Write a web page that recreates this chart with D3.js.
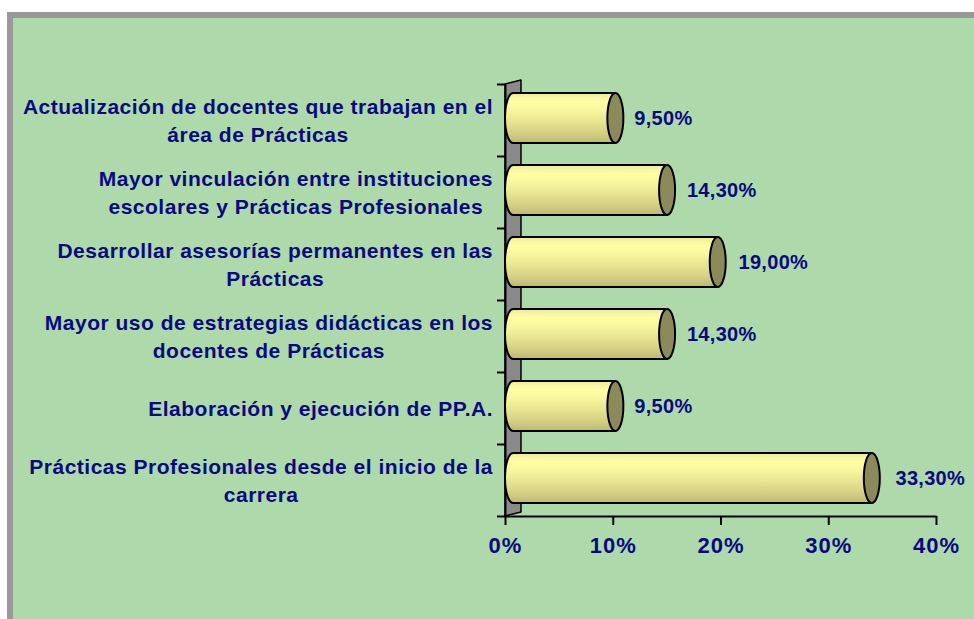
<!DOCTYPE html>
<html>
<head>
<meta charset="utf-8">
<script src="https://cdn.jsdelivr.net/npm/d3@7"></script>
<style>
  html, body { margin: 0; padding: 0; background: #ffffff; }
  svg { display: block; }
  text { font-family: "Liberation Sans", Arial, sans-serif; font-weight: bold; fill: #0a0a80; }
</style>
</head>
<body>
<svg id="chart" width="974" height="619"></svg>
<script>
// Categories (top to bottom); "\n" marks a line break in the label
const categories = [
  "Actualización de docentes que trabajan en el\nárea de Prácticas",
  "Mayor vinculación entre instituciones\nescolares y Prácticas Profesionales",
  "Desarrollar asesorías permanentes en las\nPrácticas",
  "Mayor uso de estrategias didácticas en los\ndocentes de Prácticas",
  "Elaboración y ejecución de PP.A.",
  "Prácticas Profesionales desde el inicio de la\ncarrera"
];
const values = [9.5, 14.3, 19.0, 14.3, 9.5, 33.3];
const valueLabels = ["9,50%", "14,30%", "19,00%", "14,30%", "9,50%", "33,30%"];
const xTicks = [0, 10, 20, 30, 40];

const W = 974, H = 619;
const svg = d3.select("#chart");

// Frame: grey border on the top and left, green plot background
svg.append("rect").attr("x", 7).attr("y", 12).attr("width", W - 7).attr("height", H - 12).attr("fill", "#999999");
svg.append("rect").attr("x", 13).attr("y", 18).attr("width", W - 13).attr("height", H - 18).attr("fill", "#aed9aa");

// Scales
const x = d3.scaleLinear().domain([0, 40]).range([505, 936]);
const y = d3.scaleBand().domain(d3.range(categories.length)).range([84, 516]).padding(0);
const yIdx = d3.scaleLinear().domain([0, categories.length]).range([84, 516]);

// 3D depth of the wall and half-depth where the cylinders sit
const depthX = 16, depthY = -4;
const midX = depthX / 2, midY = depthY / 2;

const defs = svg.append("defs");
const grad = defs.append("linearGradient").attr("id", "cyl").attr("x1", 0).attr("y1", 0).attr("x2", 0).attr("y2", 1);
[["0%", "#ecea9e"], ["18%", "#ffffa4"], ["35%", "#f8f69e"], ["60%", "#e6e290"], ["85%", "#d0ca80"], ["100%", "#bdb672"]]
  .forEach(([o, c]) => grad.append("stop").attr("offset", o).attr("stop-color", c));

// Side wall
const x0 = x(0), yTop = yIdx(0), yBot = yIdx(categories.length);
svg.append("path")
  .attr("d", `M${x0},${yTop} L${x0 + depthX},${yTop + depthY} L${x0 + depthX},${yBot + depthY} L${x0},${yBot} Z`)
  .attr("fill", "#8a8a8a").attr("stroke", "#000").attr("stroke-width", 1.5).attr("stroke-linejoin", "round");

// Category axis (ticks at band boundaries)
const yAxis = svg.append("g").attr("transform", `translate(${x0},0)`)
  .call(d3.axisLeft(yIdx).tickValues(d3.range(categories.length + 1)).tickSize(8).tickSizeOuter(0).tickFormat(""));
yAxis.selectAll("path, line").attr("stroke", "#000").attr("stroke-width", 2);

// Value axis
const xAxis = svg.append("g").attr("transform", `translate(0,${yBot})`)
  .call(d3.axisBottom(x).tickValues(xTicks).tickSize(9).tickSizeOuter(0).tickPadding(12).tickFormat(d => d + "%"));
xAxis.selectAll("path, line").attr("stroke", "#000").attr("stroke-width", 2);
xAxis.selectAll("text").attr("font-size", 22).attr("letter-spacing", 1).attr("fill", "#0a0a80")
  .attr("font-family", "'Liberation Sans', Arial, sans-serif").attr("font-weight", "bold");

// Cylinders
const ry = 25, rx = 8;
const bars = svg.append("g").selectAll("g").data(values).join("g");
bars.each(function (v, i) {
  const g = d3.select(this);
  const cy = y(i) + y.bandwidth() / 2 + midY;
  const xa = x(0) + midX, xb = x(v) + midX;
  const top = cy - ry, bot = cy + ry;
  g.append("path")
    .attr("d", `M${xa},${top} L${xb},${top} L${xb},${bot} L${xa},${bot} A${rx},${ry} 0 0 1 ${xa},${top} Z`)
    .attr("fill", "url(#cyl)").attr("stroke", "#000").attr("stroke-width", 2).attr("stroke-linejoin", "round");
  g.append("ellipse")
    .attr("cx", xb).attr("cy", cy).attr("rx", rx).attr("ry", ry)
    .attr("fill", "#8c8a5a").attr("stroke", "#000").attr("stroke-width", 2);
  // label gap widens slightly with bar length (perspective of the 3D view)
  g.append("text")
    .attr("x", xb + rx + 9 + 0.2 * v).attr("y", cy).attr("dy", "0.35em")
    .attr("font-size", 20).attr("letter-spacing", 0.3)
    .text(valueLabels[i]);
});

// Category labels: centred lines, block right-aligned against the axis
const labelRight = 493, lineH = 28, catFont = 21;
const labels = svg.append("g").selectAll("text").data(categories).join("text")
  .attr("font-size", catFont).attr("letter-spacing", 0.5).attr("text-anchor", "middle");
labels.each(function (d, i) {
  const t = d3.select(this);
  const lines = d.split("\n");
  const cy = y(i) + y.bandwidth() / 2;
  const spans = lines.map((ln, k) =>
    t.append("tspan").attr("x", 0).attr("y", cy + (k - (lines.length - 1) / 2) * lineH).attr("dy", "0.36em").text(ln));
  const w = d3.max(spans, s => s.node().getComputedTextLength());
  spans.forEach(s => s.attr("x", labelRight - w / 2));
});
</script>
</body>
</html>
